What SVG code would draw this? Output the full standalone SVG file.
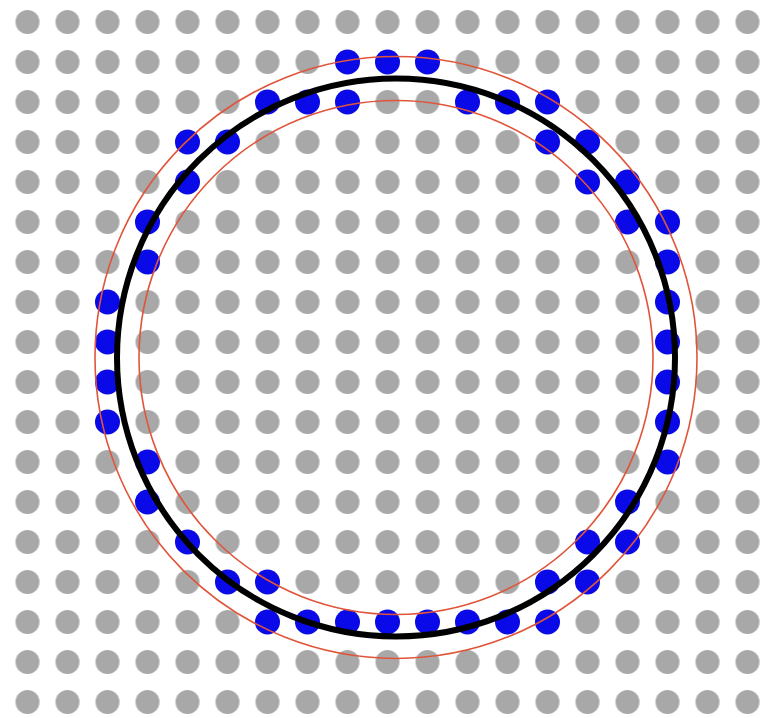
<svg xmlns="http://www.w3.org/2000/svg" width="761" height="718" viewBox="0 0 761 718">
  <style>
    .b { fill: #0a0ae8; }
    .red { fill: none; stroke: #e0553a; stroke-width: 1.6; }
    .blk { fill: none; stroke: #000000; stroke-width: 6; }
  </style>
  <defs>
    <pattern id="grid" patternUnits="userSpaceOnUse" x="7.5" y="2" width="40" height="40">
      <circle cx="20" cy="20" r="12" fill="#a8a8a8"/>
    </pattern>
  </defs>
  <rect width="761" height="718" fill="#ffffff"/>
  <rect id="grid-dots" width="761" height="718" fill="url(#grid)"/>
  <g id="blue-dots">
    <circle class="b" cx="347.5" cy="62" r="12.5"/><circle class="b" cx="387.5" cy="62" r="12.5"/><circle class="b" cx="427.5" cy="62" r="12.5"/>
    <circle class="b" cx="267.5" cy="102" r="12.5"/><circle class="b" cx="307.5" cy="102" r="12.5"/><circle class="b" cx="347.5" cy="102" r="12.5"/>
    <circle class="b" cx="467.5" cy="102" r="12.5"/><circle class="b" cx="507.5" cy="102" r="12.5"/><circle class="b" cx="547.5" cy="102" r="12.5"/>
    <circle class="b" cx="187.5" cy="142" r="12.5"/><circle class="b" cx="227.5" cy="142" r="12.5"/><circle class="b" cx="547.5" cy="142" r="12.5"/><circle class="b" cx="587.5" cy="142" r="12.5"/>
    <circle class="b" cx="187.5" cy="182" r="12.5"/><circle class="b" cx="587.5" cy="182" r="12.5"/><circle class="b" cx="627.5" cy="182" r="12.5"/>
    <circle class="b" cx="147.5" cy="222" r="12.5"/><circle class="b" cx="627.5" cy="222" r="12.5"/><circle class="b" cx="667.5" cy="222" r="12.5"/>
    <circle class="b" cx="147.5" cy="262" r="12.5"/><circle class="b" cx="667.5" cy="262" r="12.5"/>
    <circle class="b" cx="107.5" cy="302" r="12.5"/><circle class="b" cx="667.5" cy="302" r="12.5"/>
    <circle class="b" cx="107.5" cy="342" r="12.5"/><circle class="b" cx="667.5" cy="342" r="12.5"/>
    <circle class="b" cx="107.5" cy="382" r="12.5"/><circle class="b" cx="667.5" cy="382" r="12.5"/>
    <circle class="b" cx="107.5" cy="422" r="12.5"/><circle class="b" cx="667.5" cy="422" r="12.5"/>
    <circle class="b" cx="147.5" cy="462" r="12.5"/><circle class="b" cx="667.5" cy="462" r="12.5"/>
    <circle class="b" cx="147.5" cy="502" r="12.5"/><circle class="b" cx="627.5" cy="502" r="12.5"/>
    <circle class="b" cx="187.5" cy="542" r="12.5"/><circle class="b" cx="587.5" cy="542" r="12.5"/><circle class="b" cx="627.5" cy="542" r="12.5"/>
    <circle class="b" cx="227.5" cy="582" r="12.5"/><circle class="b" cx="267.5" cy="582" r="12.5"/><circle class="b" cx="547.5" cy="582" r="12.5"/><circle class="b" cx="587.5" cy="582" r="12.5"/>
    <circle class="b" cx="267.5" cy="622" r="12.5"/><circle class="b" cx="307.5" cy="622" r="12.5"/><circle class="b" cx="347.5" cy="622" r="12.5"/><circle class="b" cx="387.5" cy="622" r="12.5"/>
    <circle class="b" cx="427.5" cy="622" r="12.5"/><circle class="b" cx="467.5" cy="622" r="12.5"/><circle class="b" cx="507.5" cy="622" r="12.5"/><circle class="b" cx="547.5" cy="622" r="12.5"/>
  </g>
  <g id="circles">
    <circle class="red" cx="396" cy="357.5" r="301"/>
    <circle class="red" cx="396" cy="357.5" r="257"/>
    <circle class="blk" cx="396" cy="357.5" r="279"/>
  </g>
</svg>
